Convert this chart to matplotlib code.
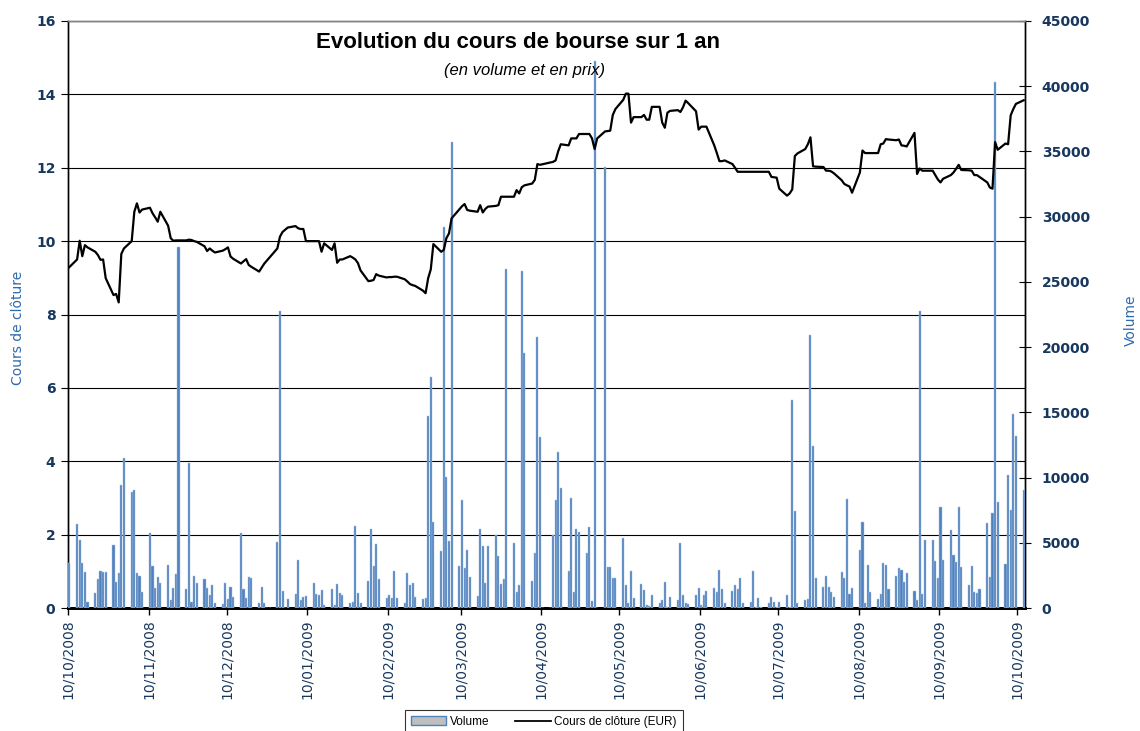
import matplotlib
matplotlib.use("Agg")
import matplotlib.pyplot as plt
from matplotlib.patches import Patch
from matplotlib.lines import Line2D
import numpy as np
import pandas as pd

# ---------------- data ----------------
start_date = "2008-10-10"
end_date = "2009-10-12"

# daily volume (one value per weekday, 0 = no trading)
volume = [
    3420,
    6410, 5210, 3420, 2790, 430,
    1180, 2200, 2840, 2760, 2760,
    4800, 2020, 2680, 9400, 11480,
    8920, 9050, 2660, 2480, 1250,
    5720, 3220, 1530, 2350, 1890,
    3300, 610, 1530, 2580, 27700,
    1460, 11090, 430, 2450, 1890,
    2200, 1530, 970, 1740, 410,
    310, 1890, 720, 1640, 870,
    5720, 1460, 790, 2350, 2270,
    410, 1640, 410, 0, 0,
    5080, 22770, 1330, 0, 690,
    1070, 3680, 610, 870, 950,
    1890, 1070, 1000, 1350, 230,
    1430, 230, 1810, 1180, 970,
    410, 490, 6290, 1180, 410,
    2100, 6030, 3220, 4880, 2200,
    790, 970, 790, 2840, 790,
    410, 2660, 1740, 1890, 870,
    720, 790, 14720, 17730, 6620,
    4370, 29230, 10070, 5140, 35720,
    3220, 8280, 3040, 4450, 2350,
    920, 6030, 4750, 1900, 4750,
    5600, 3990, 1840, 2200, 25960,
    5010, 1250, 1760, 25860, 19520,
    2100, 4240, 20800, 13130, 0,
    0, 5570, 8300, 11930, 9190,
    2840, 8450, 1250, 6020, 5820,
    4230, 6200, 540, 41900, 0,
    33800, 3120, 3120, 2270, 2270,
    5340, 1740, 410, 2860, 790,
    1810, 1350, 230, 180, 970,
    410, 610, 2020, 50, 870,
    610, 5010, 970, 410, 310,
    970, 1510, 230, 970, 1330,
    1510, 1250, 2910, 1430, 410,
    1330, 1740, 1430, 2270, 410,
    490, 2840, 50, 790, 50,
    410, 870, 490, 50, 490,
    970, 50, 15970, 7410, 410,
    610, 720, 20900, 12420, 2280,
    1640, 2480, 1640, 1250, 870,
    2760, 2310, 8370, 1070, 1530,
    4450, 6590, 410, 3300, 1250,
    720, 1070, 3420, 3300, 1460,
    2480, 3040, 2910, 2020, 2660,
    1330, 610, 22800, 1070, 5250,
    5250, 3600, 2290, 7710, 3700,
    5980, 4070, 3550, 7710, 3120,
    1760, 3250, 1250, 1180, 1460,
    6500, 2400, 7260, 40300, 8140,
    3390, 10220, 7520, 14900, 13160,
    9060,
]

# daily closing price (EUR), None = market closed
price = [
    9.29,
    9.50, 10.01, 9.59, 9.89, 9.83,
    9.71, 9.62, 9.49, 9.50, 8.99,
    8.53, 8.56, 8.33, 9.65, 9.80,
    10.00, 10.80, 11.03, 10.78, 10.86,
    10.91, 10.76, 10.65, 10.53, 10.80,
    10.42, 10.08, 10.01, 10.02, 10.02,
    10.02, 10.04, 10.03, 10.00, 9.98,
    9.86, 9.73, 9.80, 9.74, 9.69,
    9.74, 9.78, 9.83, 9.58, 9.52,
    9.39, 9.45, 9.51, 9.35, 9.30,
    9.17, 9.28, 9.39, None, None,
    9.80, 10.12, 10.25, None, 10.37,
    10.41, 10.35, 10.33, 10.33, 10.00,
    10.00, 10.00, 10.00, 9.71, 9.94,
    9.76, 9.94, 9.41, 9.50, 9.50,
    9.59, 9.55, 9.50, 9.40, 9.20,
    8.91, 8.92, 8.94, 9.10, 9.06,
    9.01, 9.02, 9.02, 9.03, 9.03,
    8.96, 8.90, 8.83, 8.80, 8.78,
    8.65, 8.58, 8.99, 9.23, 9.92,
    9.71, 9.76, 10.08, 10.21, 10.62,
    10.87, 10.95, 11.01, 10.85, 10.83,
    10.80, 10.98, 10.78, 10.88, 10.94,
    10.96, 10.98, 11.21, 11.21, 11.21,
    11.21, 11.39, 11.30, 11.47, 11.52,
    11.57, 11.67, 12.10, 12.08, None,
    None, 12.16, 12.20, 12.45, 12.64,
    12.61, 12.80, 12.80, 12.80, 12.92,
    12.92, 12.92, 12.80, 12.51, 12.80,
    12.99, 13.00, 13.01, 13.44, 13.60,
    13.85, 14.02, 14.02, 13.23, 13.38,
    13.38, 13.44, 13.31, 13.31, 13.66,
    13.66, 13.23, 13.09, 13.50, 13.55,
    13.57, 13.52, 13.65, 13.83, 13.76,
    13.54, 13.04, 13.12, 13.12, 13.12,
    12.61, 12.40, 12.18, 12.18, 12.20,
    12.10, 12.00, 11.89, 11.89, 11.89,
    11.89, 11.89, 11.89, 11.89, 11.89,
    11.89, 11.75, 11.74, 11.73, 11.43,
    11.24, 11.30, 11.41, 12.32, 12.39,
    12.51, 12.64, 12.83, 12.04, 12.03,
    12.02, 11.92, 11.92, 11.90, 11.85,
    11.66, 11.56, 11.52, 11.49, 11.32,
    11.87, 12.47, 12.40, 12.40, 12.40,
    12.40, 12.64, 12.66, 12.78, 12.77,
    12.75, 12.77, 12.61, 12.60, 12.58,
    12.95, 11.83, 11.98, 11.92, 11.92,
    11.92, 11.80, 11.68, 11.60, 11.70,
    11.80, 11.87, 11.97, 12.08, 11.94,
    11.93, 11.92, 11.80, 11.80, 11.75,
    11.60, 11.46, 11.43, 12.70, 12.49,
    12.66, 12.64, 13.43, 13.60, 13.74,
    13.84,
]

x_tick_labels = ["10/10/2008", "10/11/2008", "10/12/2008", "10/01/2009",
                 "10/02/2009", "10/03/2009", "10/04/2009", "10/05/2009",
                 "10/06/2009", "10/07/2009", "10/08/2009", "10/09/2009",
                 "10/10/2009"]
price_ticks = [0, 2, 4, 6, 8, 10, 12, 14, 16]
volume_ticks = [0, 5000, 10000, 15000, 20000, 25000, 30000, 35000, 40000, 45000]

title = "Evolution du cours de bourse sur 1 an"
subtitle = "(en volume et en prix)"

# ---------------- figure ----------------
dates = pd.bdate_range(start_date, end_date)
n = min(len(dates), len(volume), len(price))
dates = dates[:n]
vol = np.array(volume[:n], dtype=float)
prc = np.array([np.nan if p is None else p for p in price[:n]], dtype=float)
centers = dates + pd.Timedelta(hours=12)

W, H = 1140, 731
fig = plt.figure(figsize=(W / 100, H / 100), dpi=100)
fig.patch.set_facecolor("white")

L, R, T, B = 68, 1025, 21, 608
rect = [L / W, 1 - B / H, (R - L) / W, (B - T) / H]

navy = "#17375E"
lab_blue = "#2F6AAE"

ax = fig.add_axes(rect)          # price axis (left) + gridlines
ax2 = ax.twinx()                 # volume axis (right) + bars
ax3 = ax.twinx()                 # price line on top

x0 = pd.Timestamp(start_date)
x1 = pd.Timestamp(end_date) + pd.Timedelta(days=1)
for a in (ax, ax2, ax3):
    a.set_xlim(x0, x1)

# bars
ax2.bar(centers, vol, width=0.8, color="#4F81BD", edgecolor="#A9C2E2",
        linewidth=0.35, zorder=3)
ax2.set_ylim(0, 45000)

# line
m = ~np.isnan(prc)
ax3.plot(centers[m], prc[m], color="black", lw=1.6, zorder=4)
ax3.set_ylim(0, 16)
ax3.axis("off")

# left axis
ax.set_ylim(0, 16)
ax.set_yticks(price_ticks)
ax.set_yticklabels([str(t) for t in price_ticks], fontsize=10,
                   fontweight="bold", color=navy, family="DejaVu Sans")
ax.tick_params(axis="y", direction="out", length=5, width=0.8, pad=4,
               colors="black", labelcolor=navy)
ax.yaxis.grid(True, color="black", lw=0.8)
ax.set_axisbelow(True)

# right axis
ax2.set_yticks(volume_ticks)
ax2.set_yticklabels([str(t) for t in volume_ticks], fontsize=10,
                    fontweight="bold", color=navy, family="DejaVu Sans")
ax2.tick_params(axis="y", direction="inout", length=8, width=0.8, pad=8,
                colors="black", labelcolor=navy)

# axis titles
fig.text(18 / W, 1 - 328 / H, "Cours de clôture", rotation=90,
         ha="center", va="center", fontsize=10, color=lab_blue)
fig.text(1131 / W, 1 - 320 / H, "Volume", rotation=90,
         ha="center", va="center", fontsize=10, color=lab_blue)

# x axis
tick_pos = pd.to_datetime(x_tick_labels, format="%d/%m/%Y")
ax.set_xticks(tick_pos)
ax.set_xticklabels(x_tick_labels, rotation=90, fontsize=10, color=navy,
                   va="top", ha="center")
ax.tick_params(axis="x", direction="out", length=5, width=1.0, pad=3)
ax2.tick_params(axis="x", bottom=False, labelbottom=False)

# spines
for a in (ax, ax2):
    a.spines["top"].set_color("#808080")
    a.spines["top"].set_linewidth(1.0)
    a.spines["left"].set_color("black")
    a.spines["left"].set_linewidth(1.0)
    a.spines["right"].set_color("black")
    a.spines["right"].set_linewidth(1.0)
    a.spines["bottom"].set_color("black")
    a.spines["bottom"].set_linewidth(2.0)
ax2.patch.set_visible(False)

# titles
fig.text(518 / W, 1 - 43 / H, title, ha="center", va="center",
         fontsize=16, fontweight="bold", family="Liberation Sans")
fig.text(524 / W, 1 - 70 / H, subtitle, ha="center", va="center",
         fontsize=12, style="italic", family="Liberation Sans")

# legend
handles = [Patch(facecolor="#BFBFBF", edgecolor="#4F81BD", linewidth=1.0),
           Line2D([0], [0], color="black", lw=1.3)]
leg = fig.legend(handles, ["Volume", "Cours de clôture (EUR)"],
                 loc="lower center", bbox_to_anchor=(544 / W, -0.012),
                 ncol=2, frameon=True, fancybox=False,
                 edgecolor="black", handlelength=3.0, handleheight=0.8,
                 handletextpad=0.3, columnspacing=2.2, borderpad=0.5,
                 prop={"family": "Liberation Sans", "size": 8.5})
leg.get_frame().set_linewidth(0.8)

fig.savefig("out.png", dpi=100)
